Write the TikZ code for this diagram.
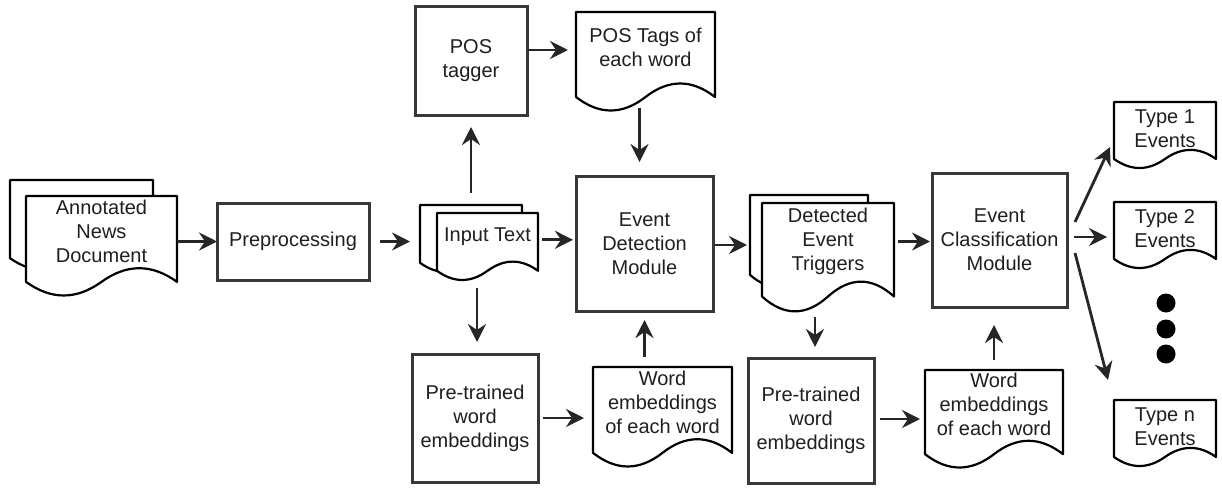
\documentclass[tikz,border=0pt]{standalone}
\usepackage{fontspec}
\setmainfont{Liberation Sans}
\usetikzlibrary{arrows.meta,calc}
\tikzset{
  x=1pt,y=-1pt,
  docline/.style={draw=black, line width=2.2pt, fill=white, line join=round},
  doctext/.style={inner sep=0pt, outer sep=0pt, align=center, text=black!88, font=\fontsize{20}{24}\selectfont},
  procbox/.style={draw=black!78, line width=3pt,
    inner sep=0pt, outer sep=0pt, align=center, text=black!88, font=\fontsize{20}{24}\selectfont},
  arr/.style={draw=black!85, line width=2.8pt, -{Stealth[length=18pt,width=18pt,inset=6pt]}},
  dotmark/.style={fill=black}
}
% document shape: x y w h (pixel coordinates, y downwards)
\newcommand\docshape[4]{%
  \path[docline] (#1,#2) -- ({#1+#3},#2) -- ({#1+#3},{#2+0.85*#4})
   .. controls ({#1+5*#3/6},{#2+0.67*#4}) and ({#1+2*#3/3},{#2+0.67*#4}) .. ({#1+#3/2},{#2+0.85*#4})
   .. controls ({#1+#3/3},{#2+1.03*#4}) and ({#1+#3/6},{#2+1.03*#4}) .. (#1,{#2+0.85*#4}) -- cycle;}
% \docnode[text fraction]{name}{x}{y}{w}{h}{text}
\newcommand\docnode[7][0.35]{%
  \docshape{#3}{#4}{#5}{#6}
  \node[doctext, minimum width=#5pt, minimum height={2*#1*#6pt}] (#2) at ({#3+#5/2},{#4+#1*#6}) {#7};}
\begin{document}
\begin{tikzpicture}
\fill[white] (0,0) rectangle (1222,487);
\useasboundingbox (0,0) rectangle (1222,487);

% documents
\docnode{annback}{10}{180}{143}{92}{}
\docnode{ann}{26}{196}{151}{101}{Annotated\\News\\Document}
\docnode{inback}{420}{205}{102}{68}{}
\docnode{in}{437}{213}{101}{68}{Input Text}
\docnode{tags}{576}{12}{139}{100}{POS Tags of\\each word}
\docnode{detback}{750}{195}{118}{94}{}
\docnode{det}{762}{203}{132}{110}{Detected\\Event\\Triggers}
\docnode{we1}{593}{367}{139}{101}{Word\\embeddings\\of each word}
\docnode{we2}{925}{370}{138}{99}{Word\\embeddings\\of each word}
\docnode[0.4]{ty1}{1114}{102}{102}{67}{Type 1\\Events}
\docnode[0.4]{ty2}{1114}{202}{102}{67}{Type 2\\Events}
\docnode[0.4]{tyn}{1114}{400}{102}{67}{Type n\\Events}

% process boxes
\node[procbox, minimum width=152pt, minimum height=77pt] (pre) at (293,241.5) {Preprocessing};
\node[procbox, minimum width=112pt, minimum height=108pt] (tagger) at (471,61) {POS\\tagger};
\node[procbox, minimum width=137pt, minimum height=135pt] (ed) at (644.5,243.5) {Event\\Detection\\Module};
\node[procbox, minimum width=126pt, minimum height=128pt] (pt1) at (475,418) {Pre-trained\\word\\embeddings};
\node[procbox, minimum width=126pt, minimum height=125pt] (pt2) at (811,420.5) {Pre-trained\\word\\embeddings};
\node[procbox, minimum width=135pt, minimum height=134pt] (ec) at (999.5,240) {Event\\Classification\\Module};

% dots
\fill[dotmark] (1166,303) circle (9.5);
\fill[dotmark] (1166,329) circle (9.5);
\fill[dotmark] (1166,354) circle (9.5);

% connectors
\draw[arr] (ann.east |- pre.west) -- (pre.west);
\draw[arr, shorten <=11pt, shorten >=10pt] (pre.east) -- (inback.west |- pre.east);
\draw[arr, shorten <=4pt, shorten >=3pt] ([yshift=-3pt]in.east) -- ([yshift=-3pt]ed.west |- in.east);
\draw[arr, shorten <=12pt, shorten >=12pt] (inback.north) -- (tagger.south);
\draw[arr, shorten <=27pt, shorten >=12pt] ([xshift=2pt]pt1.north |- in.south) -- ([xshift=2pt]pt1.north);
\draw[arr, shorten <=1pt, shorten >=8pt] ([yshift=-3pt]tagger.east |- tags.west) -- ([yshift=-3pt]tags.west);
\draw[arr, shorten <=26pt, shorten >=14pt] ([xshift=-6pt]tags.south) -- ([xshift=-6pt]tags.south |- ed.north);
\draw[arr, shorten <=10pt, shorten >=9pt] (ed.south |- we1.north) -- (ed.south);
\draw[arr, shorten <=5pt, shorten >=9pt] (pt1.east) -- (we1.west |- pt1.east);
\draw[arr, shorten <=2pt, shorten >=3pt] ([yshift=-1.5pt]ed.east) -- ([yshift=-1.5pt]detback.west |- ed.east);
\draw[arr, shorten <=4pt, shorten >=2pt] (det.east) -- (ec.west |- det.east);
\draw[arr, shorten <=37pt, shorten >=11pt] ([xshift=4pt]pt2.north |- det.south) -- ([xshift=4pt]pt2.north);
\draw[arr, shorten <=6pt, shorten >=5pt] ([yshift=1.5pt]pt2.east) -- ([yshift=1.5pt]we2.west |- pt2.east);
\draw[arr, shorten <=10pt, shorten >=18pt] (we2.north) -- (we2.north |- ec.south);

\coordinate (t1tip) at (1110,147);
\coordinate (t2tip) at (1107,237);
\coordinate (tntip) at (1108,380);
\draw[arr] ([xshift=8pt,yshift=18pt]ec.east) -- (t1tip);
\draw[arr] ([xshift=7pt,yshift=3pt]ec.east) -- (t2tip);
\draw[arr] ([xshift=8pt,yshift=-13pt]ec.east) -- (tntip);
\end{tikzpicture}
\end{document}
